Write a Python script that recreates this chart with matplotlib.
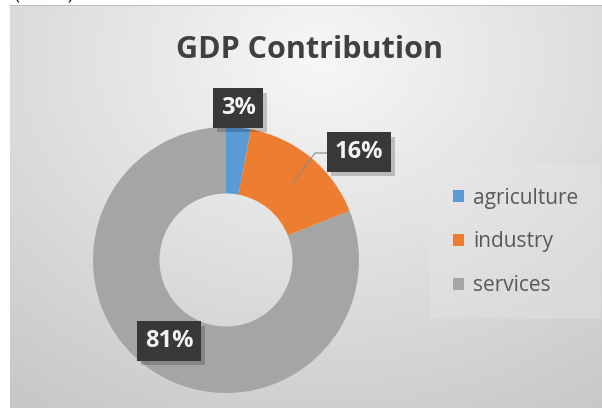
import numpy as np
import matplotlib.pyplot as plt
from matplotlib.patches import Patch, Rectangle
from matplotlib import patheffects

sectors = ['agriculture', 'industry', 'services']
shares = [3, 16, 81]
colors = ['#5B9BD5', '#ED7D31', '#A5A5A5']

W, H = 602, 408
fig = plt.figure(figsize=(W / 100, H / 100), dpi=100)
fig.patch.set_facecolor('white')
plt.rcParams['font.family'] = ['Open Sans', 'DejaVu Sans']

# chart area with a soft radial grey gradient
bg = fig.add_axes([10 / W, 0, (W - 10) / W, (H - 6) / H])
yy, xx = np.mgrid[6:H, 10:W]
d = np.sqrt(((xx - 320) / 1.25) ** 2 + (yy - 60) ** 2)
v = np.clip(0.97 - 4.5e-4 * d, 0, 1)
bg.imshow(np.dstack([v, v, v]), aspect='auto', interpolation='bilinear')
bg.axis('off')
fig.add_artist(Rectangle((10 / W, (H - 6) / H), (W - 10) / W, 1.5 / H,
                         transform=fig.transFigure, color='#bdbdbd', lw=0))

# bits of the caption above the chart
fig.text(15 / W, 1 + 4 / H, '(           )', fontsize=12, color='black',
         va='center', ha='left')

fig.text(309 / W, 1 - 50 / H, 'GDP Contribution', fontsize=22,
         fontweight='bold', color='#404040', ha='center', va='center')

# donut centered at (226, 260) px, radius 133 px
cx, cy, r = 226, 260, 133
ax = fig.add_axes([(cx - r) / W, (H - cy - r) / H, 2 * r / W, 2 * r / H])
ax.pie(shares, colors=colors, startangle=90, counterclock=False,
       wedgeprops=dict(width=0.5, linewidth=0))
ax.set_xlim(-1, 1)
ax.set_ylim(-1, 1)
ax.axis('off')


def px(x, y):
    return (x - cx) / r, (cy - y) / r


label_pos = [px(238, 108), px(359, 152), px(169, 341)]
for val, (lx, ly) in zip(shares, label_pos):
    t = ax.text(lx, ly, f'{val}%', fontsize=17, fontweight='bold',
                color='#f4f4f4', ha='center', va='center',
                bbox=dict(boxstyle='square,pad=0.32', fc='#383838',
                          ec='none', lw=0), clip_on=False)
    t.get_bbox_patch().set_path_effects([
        patheffects.SimplePatchShadow(offset=(3, -3), shadow_rgbFace='black',
                                      alpha=0.2),
        patheffects.Normal()])

# leader line for the industry label
lx, ly = zip(px(328, 153), px(315, 153), px(293, 183))
ax.plot(lx, ly, color='#8c8c8c', lw=0.8, clip_on=False)

handles = [Patch(facecolor=c, edgecolor='none') for c in colors]
leg = fig.legend(handles, sectors, loc='center left',
                 bbox_to_anchor=(426 / W, 1 - 242 / H), frameon=True,
                 handlelength=0.5, handleheight=0.5, handletextpad=0.45,
                 labelspacing=1.1, borderpad=0.8,
                 prop={'family': 'Open Sans', 'size': 15})
leg.get_frame().set_facecolor('#e8e8e8')
leg.get_frame().set_alpha(0.35)
leg.get_frame().set_edgecolor('none')
leg.get_frame().set_boxstyle('square')
for t in leg.get_texts():
    t.set_color('#595959')

fig.savefig('out.png', dpi=100)
